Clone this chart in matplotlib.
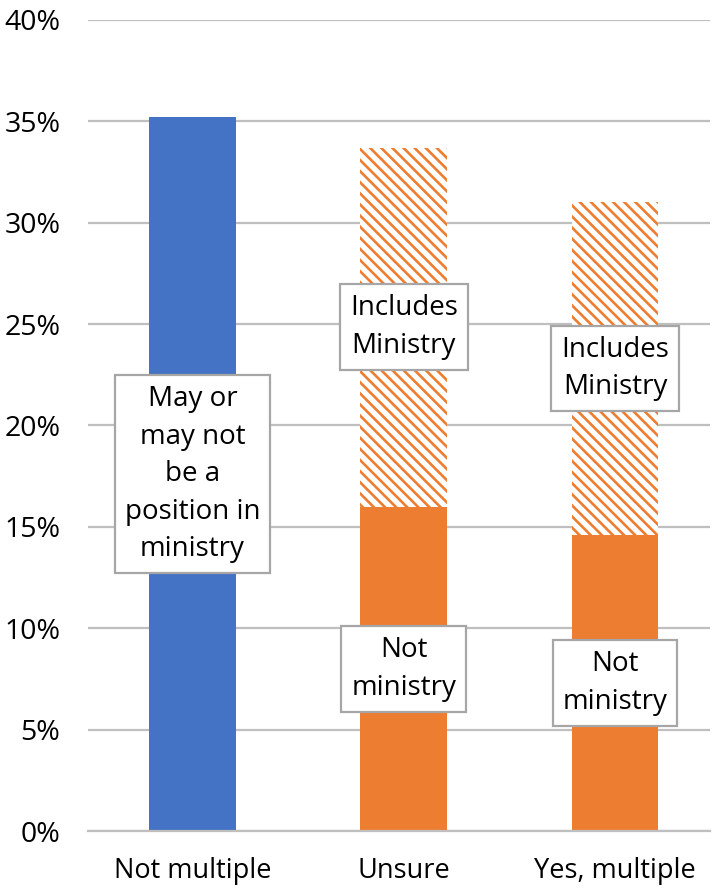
import matplotlib
matplotlib.use("Agg")
import matplotlib.pyplot as plt
import numpy as np

plt.rcParams['font.family'] = ['Open Sans', 'DejaVu Sans']
plt.rcParams['hatch.linewidth'] = 1.9

categories = ["Not multiple", "Unsure", "Yes, multiple"]
may_or_may_not = [35.2, 0, 0]
not_ministry = [0, 16.0, 14.6]
includes_ministry = [0, 17.7, 16.4]
yticks = [0, 5, 10, 15, 20, 25, 30, 35, 40]

blue = "#4472C4"
orange = "#ED7D31"
grid_c = "#BFBFBF"

fig = plt.figure(figsize=(7.24, 8.88), dpi=100)
ax = fig.add_axes([88/724, 57/888, (710-88)/724, (831-20)/888])

x = np.arange(len(categories))
w = 0.41
ax.bar(x[0], may_or_may_not[0], width=w, color=blue, zorder=2)
ax.bar(x[1:], not_ministry[1:], width=w, color=orange, zorder=2)
ax.bar(x[1:], includes_ministry[1:], bottom=not_ministry[1:], width=w,
       facecolor="white", edgecolor=orange, hatch="\\\\\\", linewidth=0, zorder=2)

ax.set_xlim(-0.495, 2.45)
ax.set_ylim(0, 40)
ax.set_yticks(yticks)
ax.set_yticklabels([f"{t}%" for t in yticks], fontsize=20.5, color="#000000")
ax.set_xticks(x)
ax.set_xticklabels(categories, fontsize=19.5, color="#000000")
ax.tick_params(axis='y', length=0, pad=20)
ax.tick_params(axis='x', length=0, pad=19)
for s in ["top", "right", "left"]:
    ax.spines[s].set_visible(False)
ax.spines["bottom"].set_color(grid_c)
ax.spines["bottom"].set_linewidth(1.6)
ax.yaxis.grid(True, color=grid_c, linewidth=1.6, zorder=0)
ax.set_axisbelow(True)

bbox = dict(boxstyle="square,pad=0.36", facecolor="white", edgecolor="#A6A6A6", linewidth=1.6)

def label(xp, yp, txt):
    ax.text(xp, yp, txt, ha="center", va="center", fontsize=20, linespacing=1.45,
            bbox=bbox, zorder=5)

label(x[0], may_or_may_not[0] / 2, "May or\nmay not\nbe a\nposition in\nministry")
for i in (1, 2):
    label(x[i], not_ministry[i] / 2, "Not\nministry")
    label(x[i], not_ministry[i] + includes_ministry[i] / 2, "Includes\nMinistry")

fig.savefig("out.png", dpi=100)
